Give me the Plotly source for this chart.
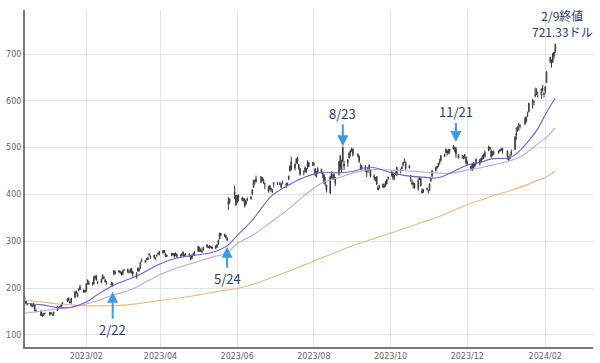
import pandas as pd
import plotly.graph_objects as go

# ---- trading calendar (US market holidays in range) ----
holidays = ["2022-12-26", "2023-01-02", "2023-01-16", "2023-02-20", "2023-04-07",
            "2023-05-29", "2023-06-19", "2023-07-04", "2023-09-04", "2023-11-23",
            "2023-12-25", "2024-01-01", "2024-01-15"]
dates = pd.bdate_range("2022-12-14", "2024-02-09", freq="C", holidays=holidays)

# ---- daily OHLC (USD) ----
opens = [
    180, 172, 167, 167, 160, 165, 164, 150, 151, 141, 142, 145,
    148, 145, 144, 144, 152, 155, 160, 160, 164, 171, 178, 171, 169, 180, 189, 182, 195, 197, 195, 192,
    194, 213, 208, 208, 209, 222, 226, 213, 212, 220, 223, 217, 213, 210, 210, 230, 232, 237, 232,
    231, 229, 238, 240, 234, 234, 240, 234, 222, 236, 237, 243, 259, 255, 263, 260, 271, 266, 270, 263, 268, 273, 271,
    275, 280, 273, 268, 269, 274, 273, 270, 272, 270, 272, 269, 269, 273, 273, 269, 263, 272, 270,
    278, 287, 282, 277, 281, 288, 289, 288, 287, 288, 285, 288, 294, 305, 316, 315, 312, 302, 385, 384, 405, 398,
    383, 397, 389, 390, 389, 379, 390, 390, 400, 415, 427, 433, 426, 436, 425, 423, 417, 411, 413, 408, 425,
    425, 421, 415, 423, 420, 421, 433, 450, 470, 456, 467, 476, 464, 455, 447, 449, 448, 467, 460, 468,
    464, 455, 438, 456, 448, 443, 442, 427, 420, 403, 445, 436, 443, 424, 444, 482, 452, 500, 465, 474, 478, 488, 497,
    497, 482, 482, 462, 460, 460, 450, 451, 463, 453, 435, 433, 438, 414, 415, 415, 418, 423, 422, 436,
    440, 446, 438, 443, 442, 449, 455, 463, 469, 469, 456, 440, 425, 425, 422, 412, 433, 434, 408, 410, 410, 407,
    409, 428, 439, 450, 457, 461, 466, 472, 481, 489, 492, 488, 496, 497, 496, 498, 485, 482, 480, 485, 479,
    465, 460, 453, 467, 460, 465, 474, 470, 476, 484, 481, 494, 501, 492, 483, 491, 489, 495, 497, 498,
    493, 475, 477, 485, 496, 525, 536, 549, 547, 550, 557, 572, 577, 599, 598, 611, 623, 609, 612, 625, 614,
    621, 639, 683, 687, 683, 704, 705,
]
highs = [
    183, 173, 168, 168, 165, 168, 164, 153, 152, 146, 147, 147,
    149, 149, 145, 149, 162, 160, 162, 166, 170, 178, 180, 172, 179, 193, 195, 190, 199, 207, 197, 196,
    210, 218, 215, 213, 225, 227, 228, 215, 220, 229, 224, 219, 215, 213, 212, 238, 237, 238, 237,
    235, 238, 240, 241, 236, 242, 243, 236, 234, 244, 244, 256, 263, 260, 264, 267, 274, 270, 271, 266, 271, 275, 279,
    281, 282, 274, 271, 275, 275, 274, 276, 273, 272, 275, 278, 273, 275, 274, 270, 272, 275, 279,
    290, 288, 285, 282, 288, 294, 290, 292, 290, 289, 291, 294, 303, 318, 318, 316, 313, 309, 394, 392, 419, 399,
    399, 400, 395, 393, 392, 388, 394, 396, 411, 431, 432, 440, 439, 437, 434, 425, 418, 420, 414, 412, 426,
    426, 427, 424, 430, 425, 425, 440, 463, 481, 466, 478, 480, 465, 456, 452, 460, 456, 473, 470, 469,
    469, 456, 450, 458, 455, 448, 443, 437, 421, 439, 449, 443, 445, 437, 471, 484, 474, 503, 472, 475, 491, 495, 500,
    498, 488, 483, 466, 463, 462, 451, 456, 464, 454, 443, 437, 439, 419, 421, 423, 423, 429, 432, 438,
    450, 448, 441, 449, 459, 455, 461, 469, 477, 470, 463, 441, 432, 426, 424, 434, 438, 435, 413, 412, 415, 410,
    424, 436, 453, 459, 461, 467, 476, 484, 487, 498, 495, 497, 497, 505, 502, 502, 486, 484, 483, 486, 481,
    472, 462, 468, 469, 468, 477, 475, 478, 484, 487, 494, 504, 502, 495, 493, 494, 494, 497, 499, 500,
    494, 482, 486, 496, 524, 543, 546, 553, 549, 566, 567, 577, 596, 604, 601, 628, 627, 619, 626, 634, 619,
    631, 663, 694, 688, 702, 705, 722,
]
lows = [
    175, 165, 162, 161, 159, 161, 150, 148, 140, 139, 140, 143,
    141, 144, 141, 140, 151, 154, 156, 158, 163, 170, 172, 167, 167, 178, 188, 180, 193, 196, 190, 190,
    192, 207, 207, 205, 207, 219, 216, 208, 210, 219, 218, 212, 207, 205, 203, 227, 229, 233, 231,
    226, 228, 236, 233, 231, 233, 231, 224, 220, 235, 235, 241, 256, 254, 259, 260, 269, 262, 263, 260, 266, 271, 270,
    274, 274, 266, 266, 268, 270, 265, 268, 265, 267, 268, 268, 268, 269, 267, 260, 261, 269, 269,
    277, 277, 278, 275, 280, 286, 285, 284, 286, 283, 284, 286, 292, 304, 311, 309, 306, 301, 367, 379, 390, 375,
    381, 385, 385, 385, 372, 378, 386, 389, 398, 414, 421, 426, 425, 428, 422, 411, 404, 409, 405, 403, 415,
    420, 420, 414, 422, 413, 418, 430, 449, 451, 451, 466, 465, 453, 440, 441, 447, 446, 454, 458, 461,
    460, 439, 436, 444, 444, 436, 422, 418, 404, 401, 434, 434, 432, 418, 440, 453, 448, 469, 452, 459, 477, 481, 491,
    481, 479, 467, 452, 452, 448, 437, 446, 449, 436, 430, 428, 420, 409, 412, 413, 414, 416, 421, 430,
    438, 430, 431, 441, 439, 445, 454, 460, 468, 453, 456, 427, 421, 413, 412, 408, 431, 417, 402, 403, 409, 402,
    407, 427, 437, 449, 454, 458, 464, 470, 480, 488, 483, 486, 487, 496, 490, 478, 477, 477, 475, 476, 464,
    461, 451, 450, 454, 459, 464, 462, 468, 474, 475, 479, 492, 494, 478, 481, 484, 487, 491, 493, 487,
    474, 471, 475, 483, 495, 516, 534, 536, 541, 549, 554, 565, 575, 583, 590, 607, 612, 607, 604, 620, 607,
    616, 638, 680, 671, 681, 690, 702,
]
closes = [
    177, 167, 166, 162, 163, 165, 153, 152, 141, 140, 146, 146,
    143, 147, 143, 149, 156, 159, 160, 165, 169, 177, 173, 168, 178, 192, 192, 189, 198, 203, 191, 195,
    209, 217, 211, 211, 224, 225, 217, 212, 219, 228, 221, 213, 213, 207, 208, 237, 233, 234, 232,
    232, 237, 239, 234, 234, 240, 232, 230, 230, 242, 242, 255, 257, 259, 262, 265, 272, 268, 265, 264, 270, 274, 278,
    280, 275, 269, 270, 274, 271, 267, 275, 267, 269, 271, 277, 271, 273, 270, 262, 270, 272, 278,
    289, 283, 279, 279, 287, 292, 287, 290, 288, 285, 290, 292, 302, 317, 313, 312, 307, 305, 380, 390, 401, 378,
    398, 393, 392, 387, 375, 385, 388, 395, 410, 430, 427, 427, 438, 430, 430, 422, 406, 419, 411, 408, 423,
    424, 423, 422, 425, 422, 424, 439, 460, 455, 465, 475, 471, 455, 443, 446, 457, 455, 459, 468, 467,
    465, 443, 445, 447, 454, 447, 426, 424, 409, 438, 439, 435, 433, 433, 470, 457, 471, 472, 460, 468, 488, 493, 494,
    485, 486, 471, 462, 456, 452, 449, 455, 456, 439, 440, 435, 422, 410, 416, 422, 419, 425, 431, 435,
    448, 435, 440, 447, 458, 453, 458, 468, 470, 455, 461, 439, 422, 421, 414, 430, 437, 418, 403, 405, 412, 408,
    423, 435, 450, 458, 460, 466, 470, 483, 486, 497, 489, 495, 493, 504, 499, 487, 478, 482, 478, 481, 468,
    468, 455, 466, 455, 466, 475, 466, 477, 481, 484, 489, 501, 496, 481, 490, 488, 493, 494, 495, 495,
    482, 476, 480, 491, 523, 531, 544, 548, 547, 564, 561, 571, 595, 597, 599, 614, 616, 610, 625, 628, 615,
    630, 662, 693, 682, 701, 696, 721,
]

# ---- moving averages, sampled from the chart ----
ma_dates = ["2022-12-14", "2022-12-28", "2023-01-10", "2023-01-20", "2023-02-01", "2023-02-10",
            "2023-02-22", "2023-03-06", "2023-03-15", "2023-03-31", "2023-04-14", "2023-04-28",
            "2023-05-12", "2023-05-24", "2023-06-01", "2023-06-14", "2023-06-28", "2023-07-12",
            "2023-07-25", "2023-08-07", "2023-08-21", "2023-08-31", "2023-09-15", "2023-10-02",
            "2023-10-16", "2023-10-27", "2023-11-06", "2023-11-17", "2023-12-01", "2023-12-12",
            "2023-12-20", "2024-01-04", "2024-01-12", "2024-01-19", "2024-01-26", "2024-02-02",
            "2024-02-09"]
ma25 = [167, 164, 158, 159, 170, 186, 205, 218, 228, 251, 264, 270, 276, 290, 312, 348, 396, 420,
        437, 447, 446, 449, 458, 446, 439, 437, 435, 445, 463, 469, 476, 479, 494, 515, 540, 575, 606]
ma50 = [146, 151, 156, 159, 166, 173, 185, 194, 205, 228, 243, 254, 266, 275, 295, 314, 341, 369,
        399, 424, 436, 445, 453, 452, 450, 448, 446, 445, 452, 457, 462, 472, 480, 493, 508, 522, 542]
ma200 = [174, 170, 166, 164, 162, 162, 162, 164, 167, 173, 178, 184, 190, 196, 199, 208, 222, 236,
         250, 264, 279, 290, 303, 318, 331, 341, 350, 362, 378, 388, 396, 408, 415, 422, 430, 438, 450]

# ---- axis ticks ----
x_tick_vals = ["2023-02-01", "2023-04-01", "2023-06-01", "2023-08-01", "2023-10-01",
               "2023-12-01", "2024-02-01"]
x_tick_text = ["2023/02", "2023/04", "2023/06", "2023/08", "2023/10", "2023/12", "2024/02"]
y_tick_vals = [100, 200, 300, 400, 500, 600, 700]

# ---- event markers ----
event_dates = ["2023-02-22", "2023-05-24", "2023-08-24", "2023-11-22"]
event_labels = ["2/22", "5/24", "8/23", "11/21"]
event_tips = [192, 288, 503, 512]
event_offsets = [38, 32, -33, -30]

assert len(dates) == len(opens) == len(highs) == len(lows) == len(closes), (
    len(dates), len(opens), len(highs), len(lows), len(closes))

fig = go.Figure()
fig.add_trace(go.Candlestick(
    x=dates, open=opens, high=highs, low=lows, close=closes,
    increasing=dict(line=dict(color="#3a3a3a", width=1), fillcolor="#ffffff"),
    decreasing=dict(line=dict(color="#3a3a3a", width=1), fillcolor="#3a3a3a"),
    whiskerwidth=0, hoverinfo="skip", showlegend=False,
))
fig.add_trace(go.Scatter(x=ma_dates, y=ma200, mode="lines", line=dict(color="#f6b57a", width=1.1, shape="spline"),
                         hoverinfo="skip", showlegend=False))
fig.add_trace(go.Scatter(x=ma_dates, y=ma50, mode="lines", line=dict(color="#b7aadc", width=1.1, shape="spline"),
                         hoverinfo="skip", showlegend=False))
fig.add_trace(go.Scatter(x=ma_dates, y=ma25, mode="lines", line=dict(color="#6c62d2", width=1.1, shape="spline"),
                         hoverinfo="skip", showlegend=False))

text_font = dict(family="Noto Sans CJK JP, Noto Sans, sans-serif", size=13, color="#2e3a6a")
for d, lab, tip, off in zip(event_dates, event_labels, event_tips, event_offsets):
    fig.add_annotation(x=d, y=tip, xref="x", yref="y", text=lab, showarrow=True,
                       ax=0, ay=off, arrowhead=2, arrowsize=1.1, arrowwidth=2,
                       arrowcolor="#3d9be3", standoff=0, font=text_font)

fig.add_annotation(x="2024-02-15", y=765, xref="x", yref="y",
                   text="2/9終値<br>721.33ドル", showarrow=False,
                   font=dict(family="Noto Sans CJK JP, Noto Sans, sans-serif", size=12, color="#2e3a6a"))

fig.update_layout(
    width=600, height=363,
    margin=dict(l=25, r=7, t=10, b=16),
    paper_bgcolor="white", plot_bgcolor="white",
    showlegend=False,
    xaxis=dict(type="date", range=["2022-12-14 06:00", "2024-03-10"],
               tickvals=x_tick_vals, ticktext=x_tick_text,
               showgrid=True, gridcolor="#e2e2e2", gridwidth=1,
               showline=True, linecolor="#7a7a7a", linewidth=2,
               ticks="", tickfont=dict(family="DejaVu Sans", size=8, color="#666"),
               rangeslider=dict(visible=False), zeroline=False, automargin=False),
    yaxis=dict(range=[74, 794], tickvals=y_tick_vals,
               showgrid=True, gridcolor="#e2e2e2", gridwidth=1,
               showline=True, linecolor="#7a7a7a", linewidth=2,
               ticks="", tickfont=dict(family="DejaVu Sans", size=8, color="#666"),
               zeroline=False, automargin=False),
)

fig.write_html("out.html", config={"displayModeBar": False},
               post_script="document.body.style.margin='0px';document.body.style.overflow='hidden';")
